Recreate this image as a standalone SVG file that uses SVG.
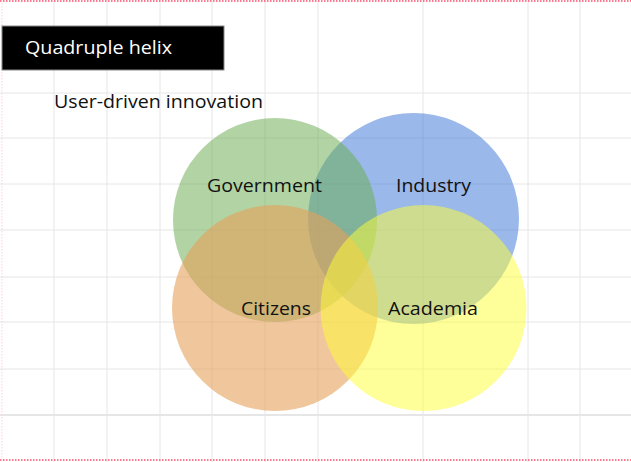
<svg xmlns="http://www.w3.org/2000/svg" width="631" height="462" viewBox="0 0 631 462">
<style>
.grid line{stroke:#e6e6e6;stroke-width:1}
.border{stroke:#ff4d6a;stroke-width:1.5;stroke-dasharray:1.5 1.5;fill:none}
.lbl{font-family:"Open Sans","DejaVu Sans",sans-serif;font-size:18.5px;fill:#111}
</style>
<rect width="631" height="462" fill="#ffffff"/>
<g class="grid">
<line x1="54" y1="0" x2="54" y2="462"/>
<line x1="107" y1="0" x2="107" y2="462"/>
<line x1="160" y1="0" x2="160" y2="462"/>
<line x1="212" y1="0" x2="212" y2="462"/>
<line x1="265" y1="0" x2="265" y2="462"/>
<line x1="318" y1="0" x2="318" y2="462"/>
<line x1="423" y1="0" x2="423" y2="462"/>
<line x1="528" y1="0" x2="528" y2="462"/>
<line x1="580" y1="0" x2="580" y2="462"/>
<line x1="0" y1="93" x2="631" y2="93"/>
<line x1="0" y1="138" x2="631" y2="138"/>
<line x1="0" y1="184" x2="631" y2="184"/>
<line x1="0" y1="230" x2="631" y2="230"/>
<line x1="0" y1="277" x2="631" y2="277"/>
<line x1="0" y1="322" x2="631" y2="322"/>
<line x1="0" y1="369" x2="631" y2="369"/>
<line x1="0" y1="415" x2="631" y2="415" style="stroke-width:2"/>
</g>
<line class="border" x1="0" y1="1" x2="631" y2="1"/>
<line class="border" x1="0" y1="460" x2="631" y2="460"/>
<line class="border" x1="2" y1="0" x2="2" y2="462" style="stroke:#ffd0d8;stroke-width:1"/>
<g id="title">
<rect x="2" y="26" width="222" height="44" fill="#000" stroke="#888" stroke-width="1"/>
<text x="25" y="54" font-family="Open Sans, DejaVu Sans, sans-serif" font-size="19" fill="#fff" textLength="147" lengthAdjust="spacingAndGlyphs">Quadruple helix</text>
</g>
<g id="subtitle">
<text x="54" y="108" font-family="Open Sans, DejaVu Sans, sans-serif" font-size="18" fill="#111" textLength="209" lengthAdjust="spacingAndGlyphs">User-driven innovation</text>
</g>
<g id="industry"><circle cx="413.5" cy="218.5" r="105.5" fill="#3571d5" fill-opacity="0.5"/></g>
<g id="government"><circle cx="275" cy="220" r="102" fill="#6bac50" fill-opacity="0.52"/></g>
<g id="citizens"><circle cx="275" cy="308" r="103" fill="#e6a05a" fill-opacity="0.6"/></g>
<g id="academia"><circle cx="423.5" cy="308" r="103" fill="#ffff33" fill-opacity="0.5"/></g>
<g id="labels">
<text class="lbl" x="207" y="192" textLength="115" lengthAdjust="spacingAndGlyphs">Government</text>
<text class="lbl" x="396" y="192" textLength="75" lengthAdjust="spacingAndGlyphs">Industry</text>
<text class="lbl" x="241" y="315" textLength="70" lengthAdjust="spacingAndGlyphs">Citizens</text>
<text class="lbl" x="388" y="315" textLength="90" lengthAdjust="spacingAndGlyphs">Academia</text>
</g>
<g id="connectors"/>
</svg>
